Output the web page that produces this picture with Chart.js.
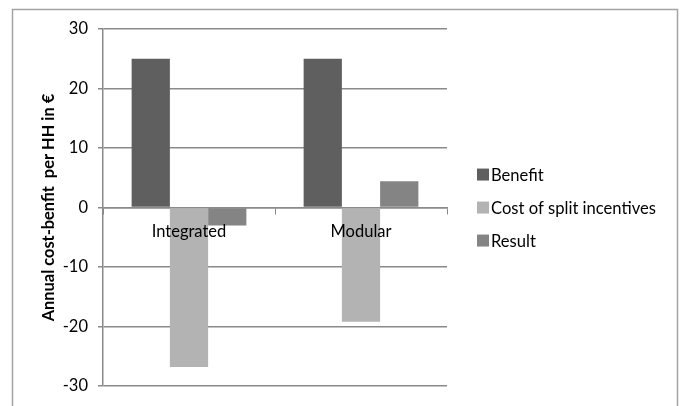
<!DOCTYPE html>
<html>
<head>
<meta charset="utf-8">
<script src="https://cdn.jsdelivr.net/npm/chart.js@4/dist/chart.umd.min.js"></script>
<style>
  html, body { margin: 0; padding: 0; background: #ffffff; }
  #wrap { position: relative; width: 683px; height: 406px; }
</style>
</head>
<body>
<div id="wrap"><canvas id="c" width="683" height="406"></canvas></div>
<script>
// Annual cost-benefit per household, by metering setup
const categories = ['Integrated', 'Modular'];
const benefit = [25, 25];
const splitIncentiveCost = [-26.8, -19.2];
const result = [-3, 4.4];
const yTicks = [-30, -20, -10, 0, 10, 20, 30];

const FONT = 'Lato, "Open Sans", sans-serif';
const GRID = '#8a8a8a';

// frame around the whole chart object
const framePlugin = {
  id: 'frame',
  beforeDraw(chart) {
    const ctx = chart.ctx;
    ctx.save();
    ctx.strokeStyle = '#a3a3a3';
    ctx.lineWidth = 1.5;
    ctx.strokeRect(12.5, 9.5, 665, 420);
    ctx.restore();
  }
};

// legend drawn to the right of the plot, vertically centred on it
const sideLegend = {
  id: 'sideLegend',
  afterDraw(chart) {
    const ctx = chart.ctx;
    const area = chart.chartArea;
    const sets = chart.data.datasets;
    const mid = (area.top + area.bottom) / 2;
    const gap = 33;
    const x0 = area.right + 30;
    ctx.save();
    ctx.font = '16.6px ' + FONT;
    ctx.textBaseline = 'middle';
    sets.forEach((ds, i) => {
      const y = mid + (i - (sets.length - 1) / 2) * gap;
      ctx.fillStyle = ds.backgroundColor;
      ctx.fillRect(x0, y - 6, 12, 12);
      ctx.fillStyle = '#000';
      ctx.fillText(ds.label, x0 + 14, y + 1);
    });
    ctx.restore();
  }
};

new Chart(document.getElementById('c'), {
  type: 'bar',
  data: {
    labels: categories,
    datasets: [
      { label: 'Benefit', data: benefit, backgroundColor: '#5f5f5f' },
      { label: 'Cost of split incentives', data: splitIncentiveCost, backgroundColor: '#b3b3b3' },
      { label: 'Result', data: result, backgroundColor: '#848484' }
    ]
  },
  options: {
    responsive: false,
    animation: false,
    devicePixelRatio: 1,
    layout: { padding: { left: 0, right: 236, top: 29, bottom: 18 } },
    datasets: { bar: { categoryPercentage: 0.667, barPercentage: 1.0, borderWidth: 0 } },
    plugins: {
      legend: { display: false },
      tooltip: { enabled: false }
    },
    scales: {
      x: {
        position: { y: 0 },
        offset: true,
        grid: {
          offset: true,
          drawOnChartArea: false,
          drawTicks: true,
          tickLength: 6,
          color: GRID
        },
        border: { display: true, color: GRID, width: 1.5 },
        ticks: { color: '#000', font: { family: FONT, size: 16.5 }, padding: 8, z: 1 }
      },
      y: {
        min: -30,
        max: 30,
        afterFit(scale) { scale.width = 103; },
        afterBuildTicks(scale) { scale.ticks = yTicks.map(v => ({ value: v })); },
        grid: { color: GRID, lineWidth: 1.5, tickLength: 5, drawTicks: true },
        border: { display: true, color: GRID, width: 1.5 },
        ticks: { color: '#000', font: { family: FONT, size: 16.5 }, padding: 10 },
        title: {
          display: true,
          text: 'Annual cost-benfit  per HH in €',
          color: '#000',
          font: { family: FONT, size: 16.4, weight: 'bold' },
          padding: { top: 39, bottom: 0 }
        }
      }
    }
  },
  plugins: [framePlugin, sideLegend]
});
</script>
</body>
</html>
